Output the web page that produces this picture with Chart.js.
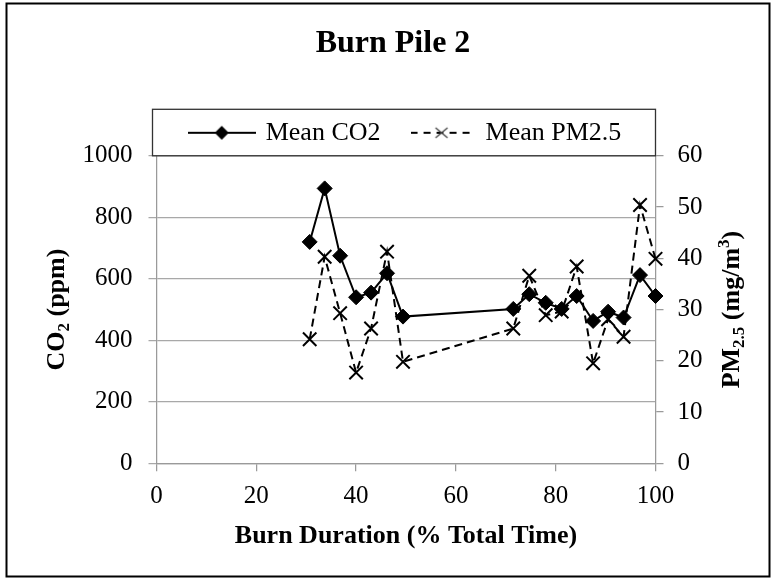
<!DOCTYPE html>
<html>
<head>
<meta charset="utf-8">
<title>Burn Pile 2</title>
<script src="https://cdn.jsdelivr.net/npm/chart.js@4.4.1/dist/chart.umd.min.js"></script>
<style>
  html, body { margin: 0; padding: 0; background: #fff; }
  #wrap { width: 775px; height: 579px; }
</style>
</head>
<body>
<div id="wrap"><canvas id="burnChart" width="775" height="579"></canvas></div>
<script>
// burn duration (% of total time) for each sample
const burnPct = [30.7, 33.7, 36.8, 40.0, 43.0, 46.2, 49.4, 71.5, 74.7, 78.0, 81.2, 84.2, 87.5, 90.5, 93.6, 96.9, 100];
// mean CO2 (ppm), left axis
const meanCO2 = [720, 894, 675, 540, 555, 618, 477, 502, 550, 522, 502, 544, 463, 493, 474, 612, 544];
// mean PM2.5 (mg/m3), right axis
const meanPM25 = [24.2, 40.3, 29.3, 17.7, 26.3, 41.3, 19.8, 26.3, 36.6, 28.9, 29.6, 38.4, 19.5, 28.1, 24.7, 50.4, 39.9];

const seriesNames = ['Mean CO2', 'Mean PM2.5'];
const xRange = [0, 100, 20];      // min, max, step
const co2Range = [0, 1000, 200];
const pmRange = [0, 60, 10];

const serif = "'Liberation Serif', 'Times New Roman', serif";
Chart.defaults.font.family = serif;
Chart.defaults.color = '#000';

const tickFont = { family: serif, size: 25 };
const axisGray = '#9a9a9a';
const plainNumber = v => String(v);

// little line + marker pictures used as legend symbols
function legendSample(dashed) {
  const c = document.createElement('canvas');
  c.width = dashed ? 62 : 68;
  c.height = 18;
  const g = c.getContext('2d');
  const cx = c.width / 2, cy = 9;
  g.strokeStyle = '#000';
  g.lineWidth = 2;
  if (dashed) g.setLineDash([7, 6]);
  g.beginPath();
  g.moveTo(0, cy);
  g.lineTo(c.width, cy);
  g.stroke();
  g.setLineDash([]);
  if (dashed) {
    g.lineWidth = 1.3;
    g.strokeStyle = '#444';
    g.beginPath();
    g.moveTo(cx - 6, cy - 5); g.lineTo(cx + 6, cy + 5);
    g.moveTo(cx + 6, cy - 5); g.lineTo(cx - 6, cy + 5);
    g.stroke();
  } else {
    g.fillStyle = '#000';
    g.beginPath();
    g.moveTo(cx - 7, cy); g.lineTo(cx, cy - 7); g.lineTo(cx + 7, cy); g.lineTo(cx, cy + 7);
    g.closePath();
    g.fill();
  }
  return c;
}
const samples = [legendSample(false), legendSample(true)];

// text with sub/superscripts, centred on (cx, cy) and rotated
function drawRich(ctx, parts, cx, cy, angle) {
  ctx.save();
  ctx.translate(cx, cy);
  ctx.rotate(angle);
  ctx.fillStyle = '#000';
  ctx.textBaseline = 'alphabetic';
  let total = 0;
  parts.forEach(p => {
    ctx.font = 'bold ' + p.size + 'px ' + serif;
    p.w = ctx.measureText(p.text).width;
    total += p.w;
  });
  let x = -total / 2;
  parts.forEach(p => {
    ctx.font = 'bold ' + p.size + 'px ' + serif;
    ctx.fillText(p.text, x, 8.6 + (p.dy || 0));
    x += p.w;
  });
  ctx.restore();
}

const decorations = {
  id: 'decorations',
  afterDraw(chart) {
    const { ctx, chartArea: a } = chart;
    ctx.save();
    // box round the legend, sitting on the plot top
    ctx.strokeStyle = '#333';
    ctx.lineWidth = 1.3;
    ctx.strokeRect(a.left - 4, a.top - 46.5, a.right - a.left + 4, 46.5);
    // outer frame
    ctx.strokeStyle = '#000';
    ctx.lineWidth = 2;
    ctx.strokeRect(6.5, 3.5, 763, 573);
    ctx.restore();

    const midY = (a.top + a.bottom) / 2;
    drawRich(ctx, [
      { text: 'CO', size: 26 },
      { text: '2', size: 17, dy: 5 },
      { text: ' (ppm)', size: 26 }
    ], 55, midY, -Math.PI / 2);
    drawRich(ctx, [
      { text: 'PM', size: 26 },
      { text: '2.5', size: 17, dy: 5 },
      { text: ' (mg/m', size: 26 },
      { text: '3', size: 17, dy: -10 },
      { text: ')', size: 26 }
    ], 730.5, midY, -Math.PI / 2);
  }
};

new Chart(document.getElementById('burnChart'), {
  type: 'line',
  data: {
    datasets: [{
      label: seriesNames[0],
      data: burnPct.map((x, i) => ({ x: x, y: meanCO2[i] })),
      yAxisID: 'y',
      borderColor: '#000',
      backgroundColor: '#000',
      borderWidth: 2,
      pointStyle: 'rectRot',
      pointRadius: 7.5,
      pointBorderWidth: 1,
      tension: 0,
      clip: false
    }, {
      label: seriesNames[1],
      data: burnPct.map((x, i) => ({ x: x, y: meanPM25[i] })),
      yAxisID: 'y1',
      borderColor: '#000',
      backgroundColor: '#000',
      borderWidth: 2,
      borderDash: [8, 5],
      pointStyle: 'crossRot',
      pointRadius: 9.5,
      pointBorderWidth: 2,
      tension: 0,
      clip: false
    }]
  },
  options: {
    responsive: false,
    animation: false,
    devicePixelRatio: 1,
    layout: { padding: { left: 14, right: 3, top: 6, bottom: 8 } },
    plugins: {
      tooltip: { enabled: false },
      title: {
        display: true,
        text: 'Burn Pile 2',
        color: '#000',
        font: { family: serif, size: 32, weight: 'bold' },
        padding: { top: 18.3, bottom: 27.1 }
      },
      legend: {
        position: 'top',
        fullSize: false,
        labels: {
          usePointStyle: true,
          pointStyleWidth: 62,
          padding: 30,
          color: '#000',
          font: { family: serif, size: 26 },
          generateLabels: chart => chart.data.datasets.map((ds, i) => ({
            text: ds.label,
            pointStyle: samples[i],
            datasetIndex: i,
            hidden: false,
            fontColor: '#000',
            lineWidth: 0,
            strokeStyle: 'rgba(0,0,0,0)',
            fillStyle: 'rgba(0,0,0,0)'
          }))
        }
      }
    },
    scales: {
      x: {
        type: 'linear',
        min: xRange[0],
        max: xRange[1],
        ticks: { stepSize: xRange[2], padding: 9.7, maxRotation: 0, color: '#000', font: tickFont, callback: plainNumber },
        grid: { drawOnChartArea: false, tickLength: 8, color: axisGray, lineWidth: 1.25 },
        border: { color: axisGray, width: 1.25 },
        title: {
          display: true,
          text: 'Burn Duration (% Total Time)',
          color: '#000',
          font: { family: serif, size: 26, weight: 'bold' },
          padding: { top: 0, bottom: 19.4 }
        },
        afterFit: s => { s.height = 107.7; }
      },
      y: {
        position: 'left',
        min: co2Range[0],
        max: co2Range[1],
        ticks: { stepSize: co2Range[2], padding: 16, color: '#000', font: tickFont, callback: plainNumber },
        grid: { color: '#a8a8a8', tickLength: 8, lineWidth: 1.25 },
        border: { color: axisGray, width: 1.25 },
        afterFit: s => { s.width = 142.5; }
      },
      y1: {
        position: 'right',
        min: pmRange[0],
        max: pmRange[1],
        ticks: { stepSize: pmRange[2], padding: 14, color: '#000', font: tickFont, callback: plainNumber },
        grid: { drawOnChartArea: false, tickLength: 8, color: axisGray, lineWidth: 1.25 },
        border: { color: axisGray, width: 1.25 },
        afterFit: s => { s.width = 116.5; }
      }
    }
  },
  plugins: [decorations]
});
</script>
</body>
</html>
